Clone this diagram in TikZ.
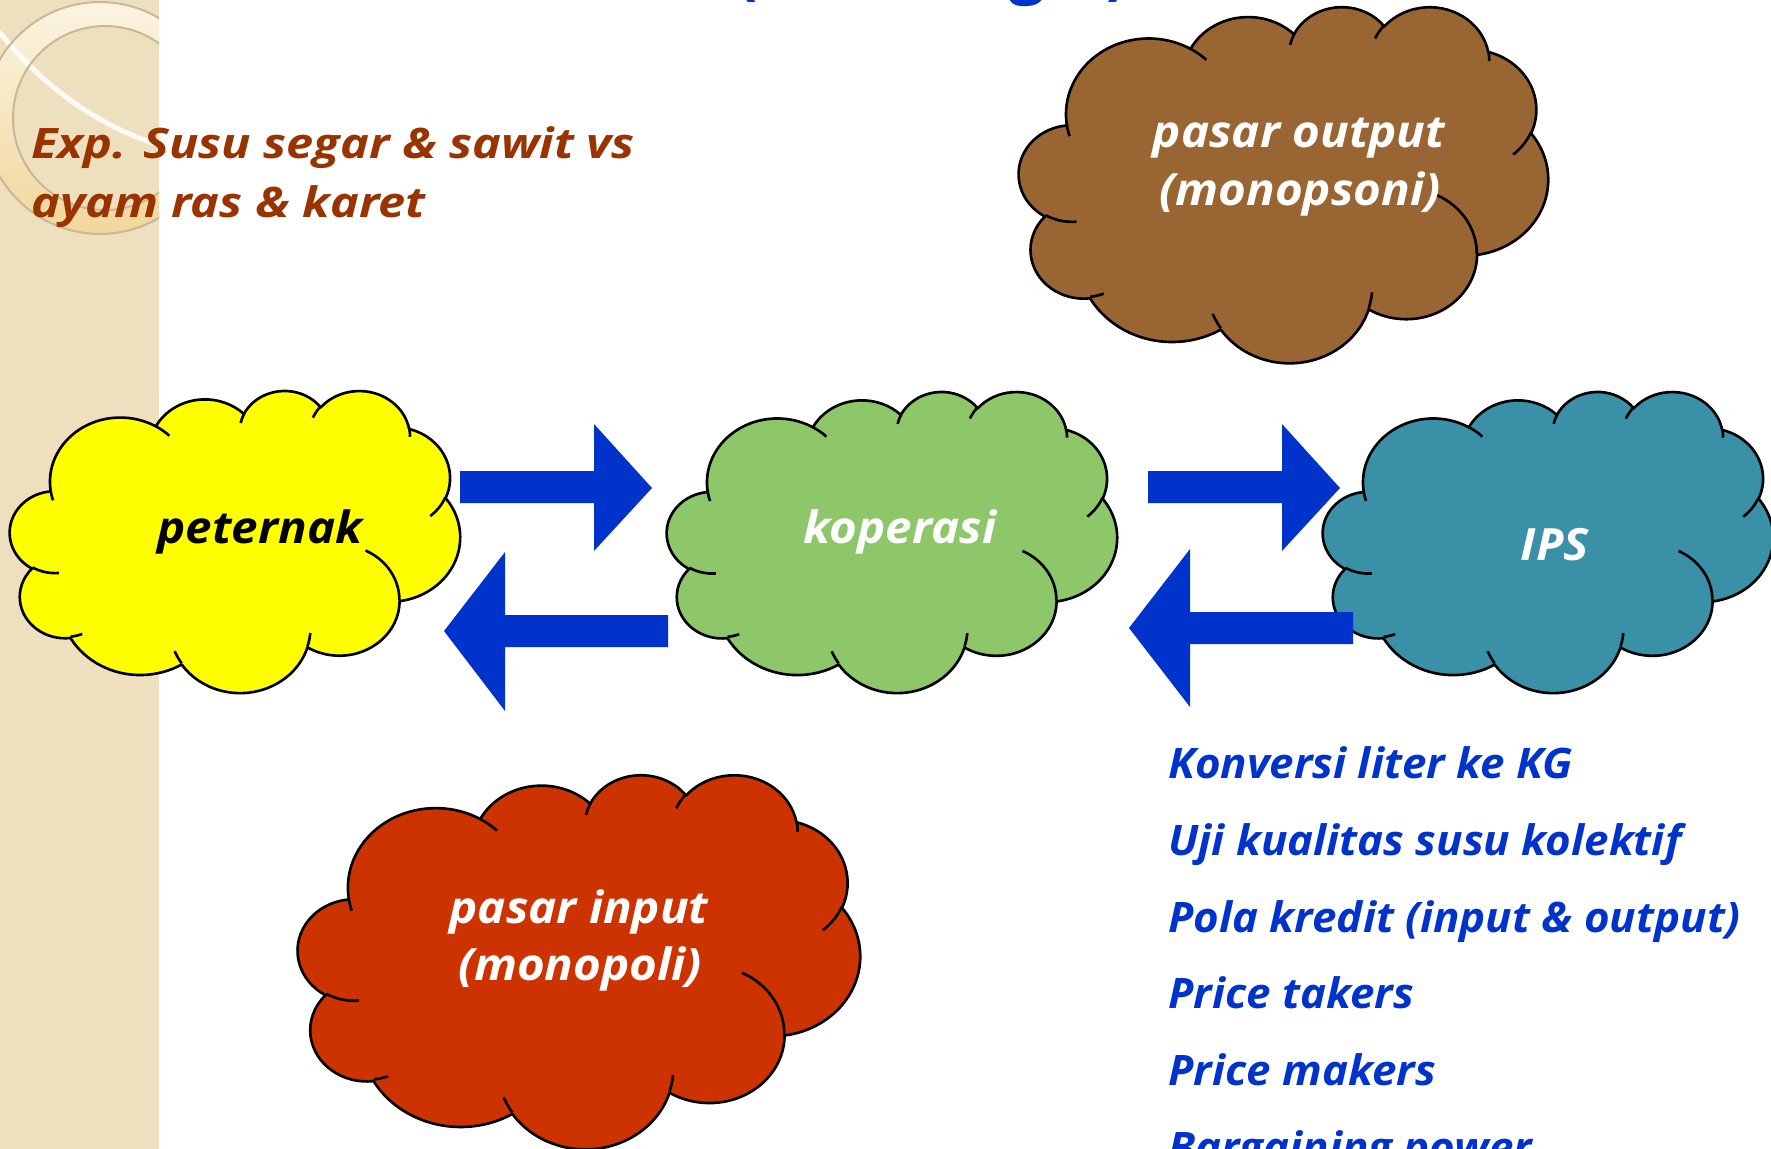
\documentclass[tikz,border=0pt]{standalone}
\usepackage{fontspec}
\setmainfont{Open Sans}
\usetikzlibrary{calc}

\definecolor{stripbg}{RGB}{238,224,190}
\definecolor{ringline}{RGB}{200,184,150}
\definecolor{ringlight}{RGB}{251,244,226}
\definecolor{ringgold}{RGB}{242,214,156}
\definecolor{arrowblue}{RGB}{0,51,204}
\definecolor{notebrown}{RGB}{153,51,0}
\definecolor{cloudyellow}{RGB}{255,255,0}
\definecolor{cloudgreen}{RGB}{142,198,106}
\definecolor{cloudteal}{RGB}{58,144,166}
\definecolor{cloudbrown}{RGB}{153,102,51}
\definecolor{cloudred}{RGB}{204,51,0}

% elliptic arc given by radii, start angle and sweep measured as seen from the centre
\newcommand\cloudarc[4]{%
  \pgfextra{%
    \pgfmathparse{atan2((#1)*sin(#3),(#2)*cos(#3))}\global\let\cloudA\pgfmathresult
    \pgfmathparse{atan2((#1)*sin(#3+#4),(#2)*cos(#3+#4))}\global\let\cloudB\pgfmathresult
    \pgfmathsetmacro\cloudDtmp{\cloudB-\cloudA}%
    \pgfmathparse{\cloudDtmp<0 ? \cloudDtmp+360 : \cloudDtmp}\global\let\cloudD\pgfmathresult
  }
  arc[start angle=\cloudA, delta angle=\cloudD, x radius=#1, y radius=#2]}

% cloud in a 43.2 x 43.2 box: left, top, width, height, fill colour
\newcommand\cloudshape[5]{%
  \begin{scope}[shift={(#1,#2)}, x=1cm, y=1cm, xscale={#3*0.02/43.2}, yscale={-#4*0.02/43.2}]
    \filldraw[fill=#5, cloudedge] (3.900,14.370)
      \cloudarc{6.753}{9.190}{-190.48748}{123.78053}
      \cloudarc{5.333}{7.267}{-144.10238}{89.94523}
      \cloudarc{4.365}{5.945}{-145.80792}{99.72302}
      \cloudarc{4.857}{6.595}{-130.98607}{117.24173}
      \cloudarc{5.333}{7.273}{-78.70888}{109.02692}
      \cloudarc{6.775}{9.220}{-46.26725}{130.26900}
      \cloudarc{5.785}{7.867}{0.62502}{114.03333}
      \cloudarc{6.752}{9.215}{22.45160}{115.17255}
      \cloudarc{7.720}{10.543}{66.24263}{75.71102}
      \cloudarc{4.360}{5.918}{-274.94208}{146.73557}
      \cloudarc{4.345}{5.945}{-246.82850}{152.51885}
      -- cycle;
    \draw[cloudedge]
      (4.693,26.177) \cloudarc{4.345}{5.945}{86.74200}{26.42950}
      (6.928,34.899) \cloudarc{4.360}{5.918}{73.61047}{11.44747}
      (16.478,39.090) \cloudarc{6.752}{9.215}{137.62415}{14.08110}
      (28.827,34.751) \cloudarc{6.752}{9.215}{6.45327}{15.99835}
      (34.129,22.954) \cloudarc{5.785}{7.867}{-70.29235}{70.91737}
      (41.798,15.354) \cloudarc{5.333}{7.273}{30.31803}{27.75150}
      (38.324,5.426) \cloudarc{4.857}{6.595}{-13.74433}{14.85890}
      (29.078,3.952) \cloudarc{4.857}{6.595}{-149.18145}{18.19537}
      (22.141,4.720) \cloudarc{4.365}{5.945}{-163.49427}{17.68635}
      (14.000,5.192) \cloudarc{6.753}{9.190}{-66.70695}{12.31935}
      (4.127,15.789) \cloudarc{6.753}{9.190}{157.65435}{11.85817};
  \end{scope}}

\tikzset{
  cloudedge/.style={draw=black, line width=1.5pt, line join=round},
  cloudlabel/.style={font=\fontsize{25.3}{30}\selectfont\bfseries\itshape\addfontfeature{FakeStretch=1.07}, anchor=base, inner sep=0pt},
  notetext/.style={font=\fontsize{23.9}{29}\selectfont\bfseries\itshape\addfontfeature{FakeStretch=1.16}, text=notebrown, anchor=base west, inner sep=0pt},
  listtext/.style={font=\fontsize{23.9}{29}\selectfont\bfseries\itshape\addfontfeature{FakeStretch=1.045}, text=arrowblue, anchor=base west, inner sep=0pt},
  titlefrag/.style={font=\fontsize{36}{40}\selectfont\bfseries, text=arrowblue, anchor=base, inner sep=0pt},
  blockarrow/.style={fill=arrowblue},
}

\begin{document}
\begin{tikzpicture}[x=0.02cm, y=-0.02cm]
\useasboundingbox (0,0) rectangle (1771,1149);

% side band with its ring ornament
\fill[stripbg] (0,0) rectangle (159,1149);
\begin{scope}
  \clip (0,0) rectangle (159,1149);
  \shade[even odd rule, top color=ringlight, bottom color=ringgold]
    (100,118) circle[radius=2.32cm] (105,118) circle[radius=1.84cm];
  \draw[white, opacity=0.85, line width=0.1cm, line cap=round]
    (0,33) .. controls (40,82) and (92,124) .. (159,145);
  \draw[ringline, line width=0.04cm] (100,118) circle[radius=2.32cm];
  \draw[ringline, line width=0.04cm] (105,118) circle[radius=1.84cm];
\end{scope}

% title line running off the top edge
\node[titlefrag] (tOpen) at (747,-7) {(};
\node[titlefrag] (tG) at (1027,-8) {g};
\node[titlefrag] (tClose) at (1117,-7) {)};

% note in the upper left
\node[notetext] (note1) at (31,158) {Exp. Susu segar \& sawit vs};
\node[notetext] (note2) at (31,217) {ayam ras \& karet};

% clouds
\cloudshape{1019}{6}{529}{356}{cloudbrown}
\cloudshape{10}{390}{450}{302}{cloudyellow}
\cloudshape{667}{391}{450}{301}{cloudgreen}
\cloudshape{1323}{391}{450}{301}{cloudteal}
\cloudshape{298}{774}{562}{374}{cloudred}

\node[cloudlabel, text=white] (outA) at (1299,148) {pasar output};
\node[cloudlabel, text=white] (outB) at (1300,205) {(monopsoni)};
\node[cloudlabel, text=black] (peternak) at (260,543) {peternak};
\node[cloudlabel, text=white] (koperasi) at (900,543) {koperasi};
\node[cloudlabel, text=white] (ips) at (1555,560) {IPS};
\node[cloudlabel, text=white] (inA) at (579,923) {pasar input};
\node[cloudlabel, text=white] (inB) at (580,980) {(monopoli)};

% block arrows between the clouds
\fill[blockarrow] (460,471) -- (594,471) -- (594,424) -- (652,488) -- (594,551) -- (594,503) -- (460,503) -- cycle;
\fill[blockarrow] (668,615) -- (505,615) -- (505,552) -- (444,631) -- (505,711) -- (505,647) -- (668,647) -- cycle;
\fill[blockarrow] (1148,471) -- (1282,471) -- (1282,424) -- (1340,488) -- (1282,551) -- (1282,503) -- (1148,503) -- cycle;
\fill[blockarrow] (1353,612) -- (1190,612) -- (1190,549) -- (1129,628) -- (1190,707) -- (1190,644) -- (1353,644) -- cycle;

% list of points
\node[listtext] (l1) at (1168,778) {Konversi liter ke KG};
\node[listtext] (l2) at (1168,855) {Uji kualitas susu kolektif};
\node[listtext] (l3) at (1168,932) {Pola kredit (input \& output)};
\node[listtext] (l4) at (1168,1008) {Price takers};
\node[listtext] (l5) at (1168,1085) {Price makers};
\node[listtext] (l6) at (1168,1162) {Bargaining power};
\end{tikzpicture}
\end{document}
